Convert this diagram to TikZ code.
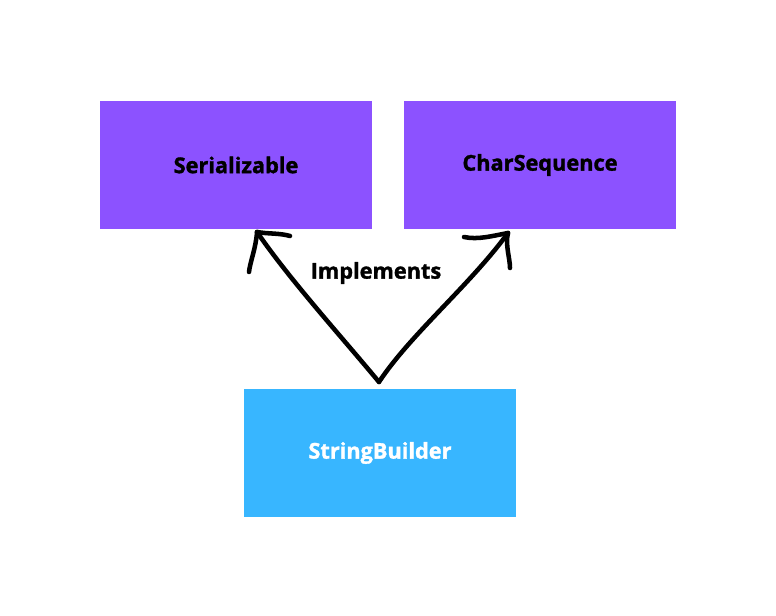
\documentclass[tikz,border=0pt]{standalone}
\usepackage{fontspec}
\setmainfont{Open Sans}[BoldFeatures={FakeBold=1.5}]
\usepackage{tikz}

\tikzset{
  iface/.style={fill={rgb, 255:red, 140; green, 82; blue, 255}, minimum width=204pt, minimum height=96pt, inner sep=0pt, font=\bfseries\fontsize{16.3}{19}\selectfont, text=black},
  klass/.style={fill={rgb, 255:red, 56; green, 182; blue, 255}, minimum width=204pt, minimum height=96pt, inner sep=0pt, font=\bfseries\fontsize{16.3}{19}\selectfont, text=white},
  stroke/.style={line width=3.4pt, line cap=round, line join=round}
}

\begin{document}
\begin{tikzpicture}[x=0.75pt,y=0.75pt,yscale=-1,xscale=1]
        \useasboundingbox (0,0) rectangle (776,616);

        \node [iface] (ser) at (236,165) {Serializable};
        \node [iface] (chs) at (540,165) {CharSequence};
        \node [klass] (sb) at (380,453) {StringBuilder};

        \coordinate (tipL) at (257,232);
        \coordinate (tipR) at (508,233);
        \coordinate (vtx) at (379,382);

        % hand drawn arrows
        \draw [stroke] (vtx) .. controls (340,335) and (290,280) .. (tipL) ;
        \draw [stroke] (tipL) .. controls (268,234) and (280,233) .. (290,236) ;
        \draw [stroke] (tipL) .. controls (256,248) and (250,262) .. (249,272) ;

        \draw [stroke] (vtx) .. controls (410,335) and (470,285) .. (tipR) ;
        \draw [stroke] (tipR) .. controls (492,236) and (478,240) .. (464,237) ;
        \draw [stroke] (tipR) .. controls (505,245) and (510,258) .. (510,268) ;

        \node [font=\bfseries\fontsize{16.3}{19}\selectfont] (impl) at (376,273) {Implements};
\end{tikzpicture}
\end{document}
